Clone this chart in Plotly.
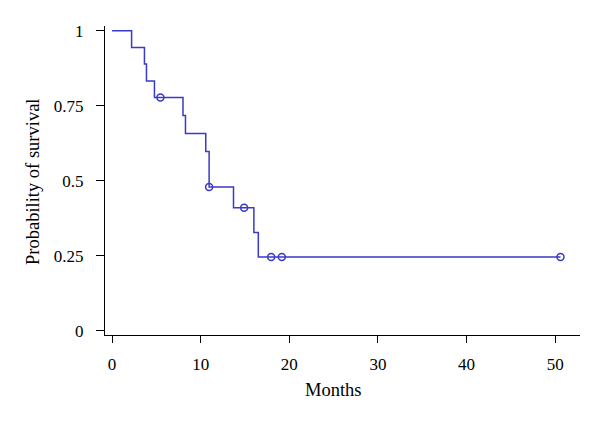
import plotly.graph_objects as go

# Kaplan-Meier step points (time in months, survival probability)
event_times = [0, 2.2, 3.65, 3.88, 4.78, 8.0, 8.28, 10.57, 10.95, 13.7, 16.0, 16.5, 50.6]
survival = [1.0, 0.944, 0.889, 0.833, 0.778, 0.718, 0.658, 0.598, 0.479, 0.410, 0.328, 0.246, 0.246]

# Censored observations
censor_times = [5.45, 10.95, 14.9, 17.95, 19.15, 50.6]
censor_surv = [0.778, 0.479, 0.410, 0.246, 0.246, 0.246]

x_ticks = [0, 10, 20, 30, 40, 50]
y_ticks = [0, 0.25, 0.5, 0.75, 1]
y_tick_labels = ["0", "0.25", "0.5", "0.75", "1"]

color = "#3a3ac8"
font_family = "Liberation Serif"

fig = go.Figure()
fig.add_trace(go.Scatter(
    x=event_times, y=survival, mode="lines",
    line=dict(color=color, width=1.5, shape="hv"),
    showlegend=False, hoverinfo="skip"))
fig.add_trace(go.Scatter(
    x=censor_times, y=censor_surv, mode="markers",
    marker=dict(symbol="circle-open", size=7, color=color, line=dict(width=1.5, color=color)),
    showlegend=False))

fig.update_layout(
    width=600, height=424,
    margin=dict(l=97, r=28, t=18, b=97),
    paper_bgcolor="white", plot_bgcolor="white",
    font=dict(family=font_family, size=17, color="black"),
    xaxis=dict(
        range=[-0.8, 52.8], tickvals=x_ticks, showgrid=False, zeroline=False,
        showline=True, linecolor="black", linewidth=1.2,
        ticks="outside", ticklen=7, tickcolor="black", tickwidth=1.2,
        tickfont=dict(size=17, family=font_family),
        ticklabelstandoff=6,
    ),
    yaxis=dict(
        range=[-0.014, 1.016], tickvals=y_ticks, ticktext=y_tick_labels,
        showgrid=False, zeroline=False,
        showline=True, linecolor="black", linewidth=1.2,
        ticks="outside", ticklen=8, tickcolor="black", tickwidth=1.2,
        tickfont=dict(size=17, family=font_family),
        ticklabelstandoff=9,
    ),
    annotations=[
        dict(text="Months", xref="paper", yref="paper",
             x=(333 - 105) / 475, y=-(390 - 335) / 309,
             xanchor="center", yanchor="middle", showarrow=False,
             font=dict(size=18.5, family=font_family)),
        dict(text="Probability of survival", xref="paper", yref="paper",
             x=-(105 - 33) / 475, y=(335 - 182) / 309, textangle=-90,
             xanchor="center", yanchor="middle", showarrow=False,
             font=dict(size=18.5, family=font_family)),
    ],
)

fig.write_html("out.html")
